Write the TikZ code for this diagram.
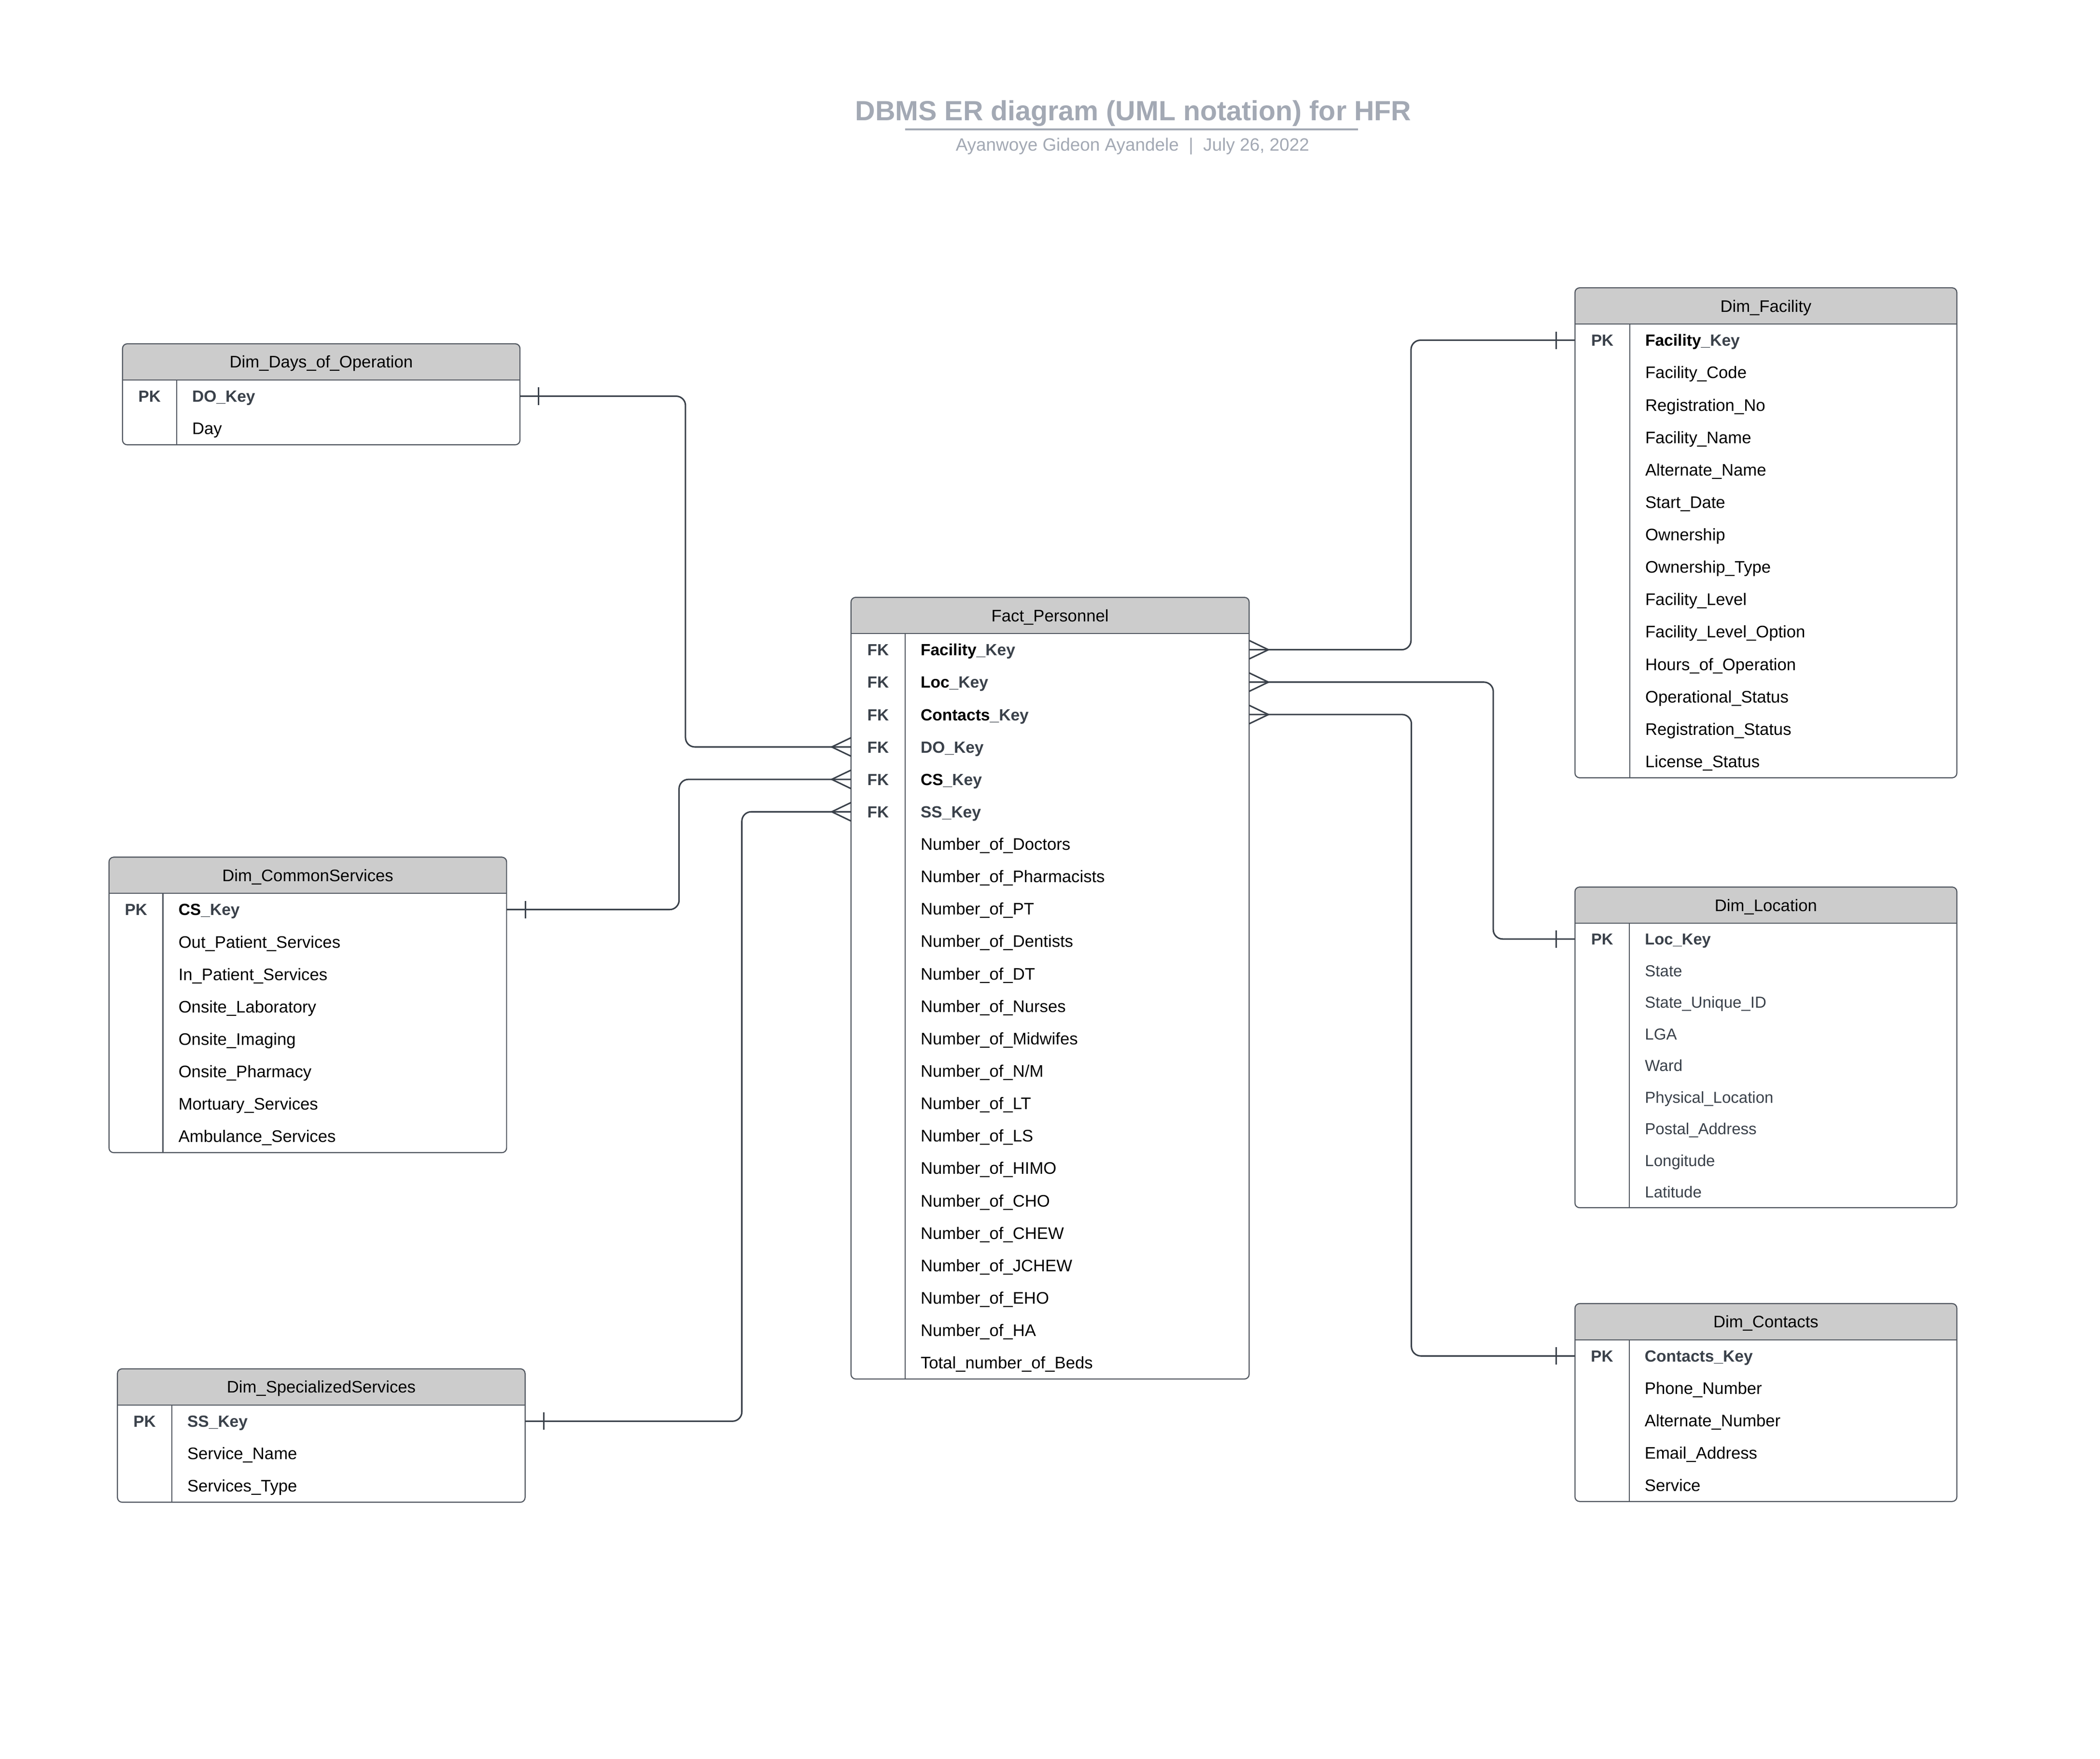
\documentclass[tikz,border=0pt]{standalone}
\usepackage{fontspec}
\setmainfont{Liberation Sans}
\usetikzlibrary{calc}
\definecolor{kg}{HTML}{3A414A}
\definecolor{hdr}{HTML}{CCCCCC}
\definecolor{bord}{HTML}{50565F}
\definecolor{ttl}{HTML}{A3A9B4}
\newcommand\kbk[1]{{\fontsize{12.1}{14}\selectfont\textbf{#1}\textcolor{kg}{\textbf{\_Key}}}}
\newcommand\kgk[1]{{\fontsize{12.1}{14}\selectfont\textcolor{kg}{\textbf{#1\_Key}}}}
\tikzset{
  tblline/.style={draw=bord, line width=0.8pt},
  conn/.style={draw=kg, line width=1.1pt, rounded corners=7pt},
  endmark/.style={draw=kg, line width=1.1pt},
  fld/.style={font=\fontsize{12.5}{15}\selectfont, text=black, inner sep=0pt, anchor=base west},
  fldg/.style={font=\fontsize{11.9}{14}\selectfont, text=kg, inner sep=0pt, anchor=base west},
  keyt/.style={font=\fontsize{12}{14}\selectfont\bfseries, text=kg, inner sep=0pt, anchor=base},
  hdrt/.style={font=\fontsize{12.5}{15}\selectfont, text=black, inner sep=0pt, anchor=base}
}
% name, L, R, T, divider, rows, row height
\newcommand\erbox[7]{%
 \pgfmathsetmacro\erB{#4+27+#6*#7}%
 \begin{scope}
  \clip[rounded corners=3.5pt] (#2,#4) rectangle (#3,\erB);
  \fill[white] (#2,#4) rectangle (#3,\erB);
  \fill[hdr] (#2,#4) rectangle (#3,#4+27);
 \end{scope}
 \draw[tblline] (#2,#4+27) -- (#3,#4+27);
 \draw[tblline] (#5,#4+27) -- (#5,\erB);
 \draw[tblline, rounded corners=3.5pt] (#2,#4) rectangle (#3,\erB);
 \coordinate (#1-hdr) at ({(#2+#3)/2},#4+18);
 \foreach \k in {1,...,#6}{%
   \coordinate (#1-\k-W) at (#2,{#4+27+(\k-0.5)*#7});
   \coordinate (#1-\k-E) at (#3,{#4+27+(\k-0.5)*#7});
   \coordinate (#1-\k-T) at (#5+11.4,{#4+27+(\k-0.5)*#7+4.4});
   \coordinate (#1-\k-K) at ({(#2+#5)/2},{#4+27+(\k-0.5)*#7+4.4});
 }%
}
\newcommand\fr[3]{\node[fld] (#1-t#2) at (#1-#2-T) {#3};}
\newcommand\frg[3]{\node[fldg] (#1-t#2) at (#1-#2-T) {#3};}
\newcommand\fk[3]{\node[keyt] (#1-k#2) at (#1-#2-K) {#3};}
\newcommand\crowW[1]{\draw[endmark] ($(#1)+(0,-6.9)$) -- ($(#1)+(-14.4,0)$) -- ($(#1)+(0,6.9)$);}
\newcommand\crowE[1]{\draw[endmark] ($(#1)+(0,-6.9)$) -- ($(#1)+(14.4,0)$) -- ($(#1)+(0,6.9)$);}
\newcommand\tickE[1]{\draw[endmark] ($(#1)+(14,-6.5)$) -- ($(#1)+(14,6.5)$);}
\newcommand\tickW[1]{\draw[endmark] ($(#1)+(-14,-6.5)$) -- ($(#1)+(-14,6.5)$);}

\begin{document}
\begin{tikzpicture}[x=1pt,y=-1pt]
\fill[white] (0,0) rectangle (1568.2,1313.3);
\useasboundingbox (0,0) rectangle (1568.2,1313.3);

% title
\node[font=\fontsize{20.7}{25}\selectfont\bfseries, text=ttl, inner sep=0pt, anchor=base] (title) at (846.3,90.1) {DBMS ER diagram (UML notation) for HFR};
\draw[ttl, line width=1.45pt] (675.9,96.5) coordinate (ul1) -- (1014,96.5) coordinate (ul2);
\node[font=\fontsize{13.3}{16}\selectfont, text=ttl, inner sep=0pt, anchor=base] (subtitle) at (845.7,112.5) {Ayanwoye Gideon Ayandele\ \ |\ \ July 26, 2022};

% tables
\erbox{days}{91.5}{388.3}{256.7}{131.9}{2}{24.2}
\node[hdrt] (days-h) at (days-hdr) {Dim\_Days\_of\_Operation};
\fk{days}{1}{PK}
\fr{days}{1}{\kgk{DO}}
\fr{days}{2}{Day}

\erbox{cs}{81.4}{378.3}{640}{121.7}{8}{24.2}
\node[hdrt] (cs-h) at (cs-hdr) {Dim\_CommonServices};
\fk{cs}{1}{PK}
\fr{cs}{1}{\kbk{CS}}
\fr{cs}{2}{Out\_Patient\_Services}
\fr{cs}{3}{In\_Patient\_Services}
\fr{cs}{4}{Onsite\_Laboratory}
\fr{cs}{5}{Onsite\_Imaging}
\fr{cs}{6}{Onsite\_Pharmacy}
\fr{cs}{7}{Mortuary\_Services}
\fr{cs}{8}{Ambulance\_Services}

\erbox{ss}{87.7}{392.1}{1022}{128.3}{3}{24.2}
\node[hdrt] (ss-h) at (ss-hdr) {Dim\_SpecializedServices};
\fk{ss}{1}{PK}
\fr{ss}{1}{\kgk{SS}}
\fr{ss}{2}{Service\_Name}
\fr{ss}{3}{Services\_Type}

\erbox{fact}{635.5}{932.8}{446}{675.9}{23}{24.2}
\node[hdrt] (fact-h) at (fact-hdr) {Fact\_Personnel};
\foreach \k in {1,...,6}{\fk{fact}{\k}{FK}}
\fr{fact}{1}{\kbk{Facility}}
\fr{fact}{2}{\kbk{Loc}}
\fr{fact}{3}{\kbk{Contacts}}
\fr{fact}{4}{\kgk{DO}}
\fr{fact}{5}{\kbk{CS}}
\fr{fact}{6}{\kgk{SS}}
\fr{fact}{7}{Number\_of\_Doctors}
\fr{fact}{8}{Number\_of\_Pharmacists}
\fr{fact}{9}{Number\_of\_PT}
\fr{fact}{10}{Number\_of\_Dentists}
\fr{fact}{11}{Number\_of\_DT}
\fr{fact}{12}{Number\_of\_Nurses}
\fr{fact}{13}{Number\_of\_Midwifes}
\fr{fact}{14}{Number\_of\_N/M}
\fr{fact}{15}{Number\_of\_LT}
\fr{fact}{16}{Number\_of\_LS}
\fr{fact}{17}{Number\_of\_HIMO}
\fr{fact}{18}{Number\_of\_CHO}
\fr{fact}{19}{Number\_of\_CHEW}
\fr{fact}{20}{Number\_of\_JCHEW}
\fr{fact}{21}{Number\_of\_EHO}
\fr{fact}{22}{Number\_of\_HA}
\fr{fact}{23}{Total\_number\_of\_Beds}

\erbox{fac}{1176.1}{1461.3}{214.9}{1217}{14}{24.2}
\node[hdrt] (fac-h) at (fac-hdr) {Dim\_Facility};
\fk{fac}{1}{PK}
\fr{fac}{1}{\kbk{Facility}}
\fr{fac}{2}{Facility\_Code}
\fr{fac}{3}{Registration\_No}
\fr{fac}{4}{Facility\_Name}
\fr{fac}{5}{Alternate\_Name}
\fr{fac}{6}{Start\_Date}
\fr{fac}{7}{Ownership}
\fr{fac}{8}{Ownership\_Type}
\fr{fac}{9}{Facility\_Level}
\fr{fac}{10}{Facility\_Level\_Option}
\fr{fac}{11}{Hours\_of\_Operation}
\fr{fac}{12}{Operational\_Status}
\fr{fac}{13}{Registration\_Status}
\fr{fac}{14}{License\_Status}

\erbox{loc}{1176.1}{1461.3}{662.3}{1216.8}{9}{23.6}
\node[hdrt] (loc-h) at (loc-hdr) {Dim\_Location};
\node[keyt, font=\fontsize{11.8}{14}\selectfont\bfseries] (loc-k1) at (loc-1-K) {PK};
\node[fldg, font=\fontsize{11.8}{14}\selectfont\bfseries] (loc-t1) at (loc-1-T) {Loc\_Key};
\frg{loc}{2}{State}
\frg{loc}{3}{State\_Unique\_ID}
\frg{loc}{4}{LGA}
\frg{loc}{5}{Ward}
\frg{loc}{6}{Physical\_Location}
\frg{loc}{7}{Postal\_Address}
\frg{loc}{8}{Longitude}
\frg{loc}{9}{Latitude}

\erbox{con}{1176.1}{1461.3}{973.3}{1216.6}{5}{24.15}
\node[hdrt] (con-h) at (con-hdr) {Dim\_Contacts};
\fk{con}{1}{PK}
\fr{con}{1}{\kgk{Contacts}}
\fr{con}{2}{Phone\_Number}
\fr{con}{3}{Alternate\_Number}
\fr{con}{4}{Email\_Address}
\fr{con}{5}{Service}

% routing columns
\coordinate (vdo) at (511.9,0);
\coordinate (vcs) at (507.1,0);
\coordinate (vss) at (554,0);
\coordinate (vfac) at (1053.7,0);
\coordinate (vloc) at (1115.1,0);
\coordinate (vcon) at (1054,0);

% connectors
\draw[conn] (days-1-E) -- (days-1-E -| vdo) -- (vdo |- fact-4-W) -- (fact-4-W);
\draw[conn] (cs-1-E) -- (cs-1-E -| vcs) -- (vcs |- fact-5-W) -- (fact-5-W);
\draw[conn] (ss-1-E) -- (ss-1-E -| vss) -- (vss |- fact-6-W) -- (fact-6-W);
\draw[conn] (fact-1-E) -- (fact-1-E -| vfac) -- (vfac |- fac-1-W) -- (fac-1-W);
\draw[conn] (fact-2-E) -- (fact-2-E -| vloc) -- (vloc |- loc-1-W) -- (loc-1-W);
\draw[conn] (fact-3-E) -- (fact-3-E -| vcon) -- (vcon |- con-1-W) -- (con-1-W);

% ends
\tickE{days-1-E} \crowW{fact-4-W}
\tickE{cs-1-E} \crowW{fact-5-W}
\tickE{ss-1-E} \crowW{fact-6-W}
\crowE{fact-1-E} \tickW{fac-1-W}
\crowE{fact-2-E} \tickW{loc-1-W}
\crowE{fact-3-E} \tickW{con-1-W}
\end{tikzpicture}
\end{document}
